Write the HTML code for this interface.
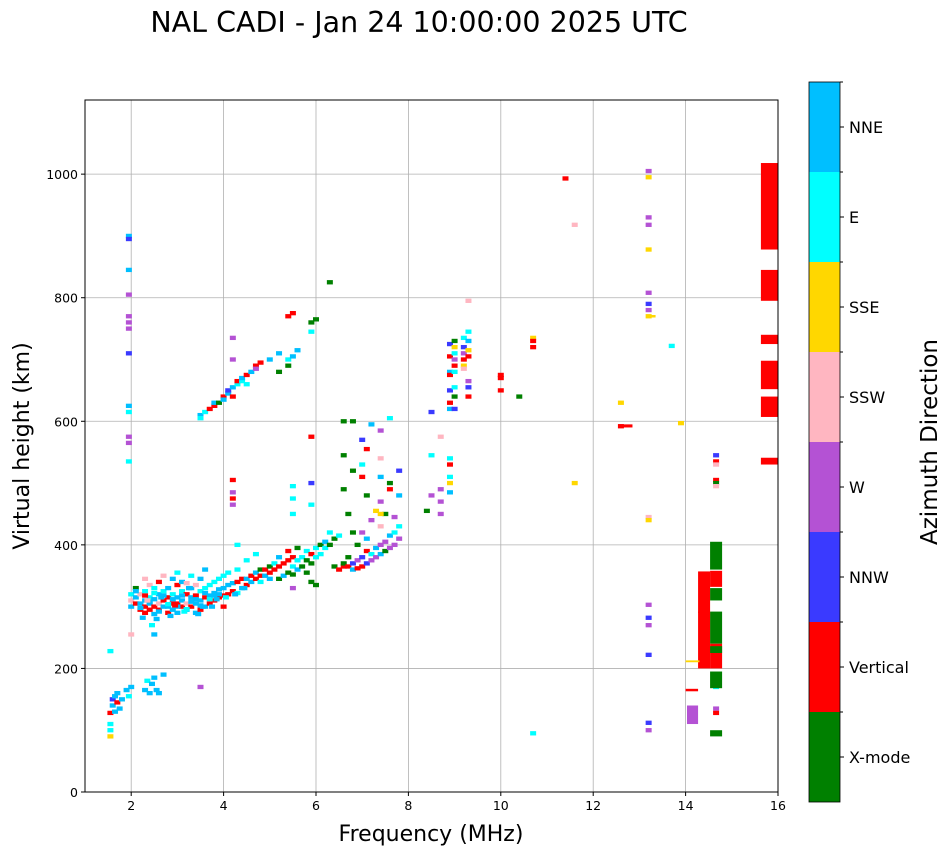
<!DOCTYPE html>
<html><head><meta charset="utf-8">
<style>
html,body{margin:0;padding:0;background:#fff;}
svg{display:block;font-family:"DejaVu Sans","Liberation Sans",sans-serif;}
</style></head>
<body>
<svg id="chart" width="951" height="856" xmlns="http://www.w3.org/2000/svg">
<text x="419" y="32" font-size="28.5" text-anchor="middle">NAL CADI - Jan 24 10:00:00 2025 UTC</text>
<g id="grid"></g>
<g id="marks"></g>
<rect x="85" y="100" width="693" height="692" fill="none" stroke="#000" stroke-width="1"/>
<g id="axes"></g>
<text x="431" y="841" font-size="22" text-anchor="middle">Frequency (MHz)</text>
<text transform="translate(29,446) rotate(-90)" font-size="22" text-anchor="middle">Virtual height (km)</text>
<g id="colorbar"></g>
<text transform="translate(937,442) rotate(-90)" font-size="23" text-anchor="middle">Azimuth Direction</text>
</svg>
<script>
const modeNames=["X-mode","Vertical","NNW","W","SSW","SSE","E","NNE"];
const modeColors=["#008000","#ff0000","#3a3aff","#b452d4","#ffb6c1","#ffd700","#00ffff","#00bfff"];
const xTicks=[2,4,6,8,10,12,14,16];
const yTicks=[0,200,400,600,800,1000];
const xDomain=[1,16];
const yDomain=[0,1120];

// echo points: frequency (MHz), virtual height (km), mode index
const echoFreqs=[1.55,1.55,1.55,1.55,1.6,1.6,1.65,1.65,1.7,1.7,1.75,1.8,1.55,1.9,1.95,2.0,2.3,2.35,2.4,2.45,2.5,2.55,2.6,2.7,2.5,2.45,
2.0,2.0,2.0,2.0,2.1,2.1,2.1,2.2,2.2,2.2,2.3,2.3,2.3,2.3,2.3,2.4,2.4,2.4,2.4,2.5,2.5,2.5,2.5,2.6,2.6,2.6,2.6,2.7,2.7,2.7,2.7,2.8,2.8,2.8,2.8,2.9,2.9,2.9,2.9,3.0,3.0,3.0,3.0,3.0,3.1,3.1,3.1,3.1,3.2,3.2,3.2,3.2,3.3,3.3,3.3,3.3,3.4,3.4,3.4,3.4,3.5,3.5,3.5,3.5,3.6,3.6,3.6,3.6,3.7,3.7,3.7,3.8,3.8,3.8,3.9,3.9,3.9,4.0,4.0,4.0,4.0,
4.1,4.1,4.1,4.2,4.2,4.3,4.3,4.3,4.3,4.4,4.4,4.5,4.5,4.5,4.6,4.6,4.7,4.7,4.7,4.8,4.8,4.8,4.9,4.9,5.0,5.0,5.0,5.1,5.1,5.2,5.2,5.2,5.3,5.3,5.4,5.4,5.4,5.5,5.5,5.5,5.5,5.6,5.6,5.6,5.7,5.7,5.8,5.8,5.8,5.9,5.9,5.9,6.0,6.0,6.0,6.1,6.1,6.2,6.2,6.3,6.3,6.4,6.4,6.5,6.5,6.6,6.6,6.7,6.7,6.7,6.8,6.8,6.8,6.9,6.9,6.9,7.0,7.0,7.0,7.1,7.1,7.1,7.2,7.2,7.2,7.3,7.3,7.3,7.4,7.4,7.4,7.5,7.5,7.5,7.6,7.6,7.7,7.7,7.7,7.8,7.8,
3.5,3.5,3.6,3.7,3.8,3.8,3.9,4.0,4.0,4.1,4.1,4.2,4.2,4.2,4.2,4.3,4.3,4.4,4.4,4.5,4.5,4.6,4.7,4.7,4.8,5.0,5.2,5.2,5.4,5.4,5.4,5.5,5.5,5.6,5.9,5.9,6.0,6.3,
1.95,1.95,1.95,1.95,1.95,1.95,1.95,1.95,1.95,1.95,1.95,1.95,1.95,
6.6,6.6,6.6,6.8,6.8,7.0,7.0,7.0,7.1,7.1,7.2,7.4,7.4,7.4,7.6,7.6,7.6,7.8,7.8,7.4,7.4,
4.2,4.2,4.2,4.2,5.5,5.5,5.5,5.9,5.9,5.9,
8.4,8.5,8.5,8.5,8.7,8.7,8.7,8.7,8.9,8.9,8.9,8.9,8.9,8.9,8.9,8.9,8.9,8.9,8.9,8.9,9.0,9.0,9.0,9.0,9.0,9.0,9.0,9.0,9.0,9.2,9.2,9.2,9.2,9.2,9.2,9.3,9.3,9.3,9.3,9.3,9.3,9.3,9.3,
10.0,10.0,10.0,10.4,10.7,10.7,10.7,11.4,11.6,11.6,12.6,12.6,13.2,13.2,13.2,13.2,13.2,13.2,13.2,13.2,13.2,13.2,13.2,13.2,13.2,13.2,13.2,13.2,13.2,13.7,13.9,10.7,3.5,
14.66,14.66,14.66,14.66,14.66,14.66,14.66,14.66,14.66,14.66,
2.1,2.2,2.3,2.4,2.5,2.6,2.7,2.8,2.9,3.0,3.1,3.2,3.3,3.4,3.5,3.6,3.7,3.8,3.9,2.25,2.55,2.85,3.15,3.45,3.75,2.35,2.65,2.95,3.25,3.55,3.85,4.05,4.25,4.45];
const echoHeights=[90,100,110,128,140,150,155,130,145,160,135,150,228,165,155,170,165,180,160,175,185,165,160,190,255,270,
300,310,320,255,305,315,330,295,305,320,290,300,310,325,345,295,305,315,335,288,300,312,330,295,305,320,340,300,310,325,350,290,300,315,330,295,305,320,345,290,305,315,335,355,300,310,325,340,295,305,320,338,300,315,330,350,290,305,318,335,295,310,325,345,300,315,330,360,305,318,335,310,322,340,315,328,345,300,318,330,350,
320,335,355,325,338,322,340,360,400,330,345,335,345,375,340,350,345,355,385,340,350,360,350,360,355,365,345,360,370,345,365,380,350,370,355,375,390,352,365,380,330,360,375,395,365,380,355,375,390,370,385,340,380,395,335,385,400,395,405,400,420,365,410,360,415,365,370,365,380,450,370,360,420,362,375,400,365,380,420,370,390,410,375,385,440,380,395,455,385,400,430,390,405,450,395,415,400,420,445,410,430,
610,605,615,620,625,630,630,640,635,645,650,640,655,735,700,660,665,665,670,675,660,680,690,685,695,700,680,710,690,700,770,705,775,715,760,745,765,825,
900,895,845,805,770,760,750,710,625,615,575,565,535,
545,490,600,600,520,570,530,510,555,480,595,585,540,510,500,490,605,520,480,470,450,
505,485,475,465,495,475,450,575,500,465,
455,615,545,480,575,490,470,450,725,705,680,675,650,630,620,540,530,510,500,485,730,720,710,700,690,680,620,655,640,735,720,710,700,690,685,745,730,715,705,665,655,640,795,
670,675,650,640,735,730,720,993,918,500,630,592,1005,995,930,918,878,808,790,780,770,445,440,303,282,270,222,112,100,722,597,95,170,
535,545,530,505,500,495,135,128,170,180,
325,298,318,308,322,292,318,304,312,300,318,296,308,312,302,322,312,318,320,282,280,285,292,288,300,310,315,302,330,300,312,315,320,330];
const echoModes=[5,6,6,1,7,2,7,7,1,7,7,7,6,7,6,7,7,6,7,7,7,7,7,7,7,6,
7,4,6,4,1,7,0,1,7,4,1,1,7,6,4,1,7,6,4,7,1,7,6,1,4,7,1,7,1,6,4,1,7,1,7,7,1,6,7,7,1,7,1,6,1,7,6,7,7,4,1,4,1,7,7,6,7,7,1,4,1,7,6,7,7,1,6,7,1,7,6,1,7,6,1,7,6,1,1,7,6,
1,7,6,1,7,6,1,6,6,7,1,1,7,6,7,1,1,7,6,6,1,0,7,1,1,0,7,1,6,0,1,7,7,1,0,1,1,0,6,1,3,7,6,0,0,6,0,0,6,0,1,0,6,6,0,6,0,6,7,0,6,0,0,1,6,1,0,1,0,0,2,7,0,1,3,0,1,2,3,2,1,7,3,6,3,3,7,5,7,3,4,0,3,0,3,7,3,6,3,3,6,
7,6,6,1,1,7,0,1,7,7,2,1,7,3,3,6,1,6,7,1,6,7,1,3,1,7,0,7,0,6,1,7,1,7,0,6,0,0,
7,2,7,3,3,3,3,2,7,6,3,3,6,
0,0,0,0,0,2,6,1,1,0,7,3,4,7,0,1,6,2,7,3,5,
1,3,1,3,6,6,6,1,2,6,
0,2,6,3,4,3,3,3,2,1,7,1,2,1,7,6,1,6,5,7,0,5,6,3,1,6,2,6,0,6,2,3,1,5,4,6,7,5,1,3,2,1,4,
1,1,1,0,5,1,1,1,4,5,5,1,3,5,3,3,5,3,2,3,5,4,5,3,2,3,2,2,3,6,5,6,3,
1,2,4,1,0,4,3,1,6,1,
7,7,1,7,6,7,7,6,7,7,7,6,7,7,7,7,6,7,7,7,7,7,6,7,7,4,7,1,7,7,7,6,7,7];

// extended echo blocks: f start, f end, h bottom, h top, mode
const blockF0=[15.63,15.63,15.63,15.63,15.63,15.63,14.53,14.53,14.53,14.53,14.53,14.53,14.53,14.53,14.27,14.27,14.03,14.0,14.0,12.55,13.15];
const blockF1=[16.0,16.0,16.0,16.0,16.0,16.0,14.79,14.79,14.79,14.79,14.79,14.79,14.79,14.79,14.53,14.53,14.27,14.27,14.3,12.85,13.35];
const blockH0=[878,795,725,652,607,530,360,332,310,240,200,168,90,225,200,290,110,163,210,590,768];
const blockH1=[1018,845,740,698,640,541,405,358,330,292,240,195,100,236,357,292,140,167,213,595,772];
const blockModes=[1,1,1,1,1,1,0,1,0,0,1,0,0,0,1,1,3,1,5,1,5];

const L=85,R=778,T=100,B=792;
const sx=f=>L+(f-xDomain[0])/(xDomain[1]-xDomain[0])*(R-L);
const sy=h=>B-(h-yDomain[0])/(yDomain[1]-yDomain[0])*(B-T);
const NS="http://www.w3.org/2000/svg";
function mk(tag,attrs,parent){const e=document.createElementNS(NS,tag);for(const k in attrs)e.setAttribute(k,attrs[k]);parent.appendChild(e);return e;}
const grid=document.getElementById('grid'),axes=document.getElementById('axes'),marks=document.getElementById('marks'),cb=document.getElementById('colorbar');

xTicks.forEach(v=>{const x=sx(v);
 if(v<16){const g=mk('line',{x1:x,x2:x,y1:T,y2:B,stroke:'#b0b0b0','stroke-width':0.8},grid);
 
 }
 const t=mk('line',{x1:x,x2:x,y1:B,y2:B+4,stroke:'#000'},axes);
 
 
 const l=mk('text',{x:x,y:B+18,'font-size':12.5,'text-anchor':'middle'},axes);l.textContent=v;
 
 
});
yTicks.forEach(v=>{const y=sy(v);
 if(v>0){const g=mk('line',{x1:L,x2:R,y1:y,y2:y,stroke:'#b0b0b0','stroke-width':0.8},grid);
 
 }
 const t=mk('line',{x1:L-4,x2:L,y1:y,y2:y,stroke:'#000'},axes);
 
 
 const l=mk('text',{x:L-7,y:y+5,'font-size':12.5,'text-anchor':'end'},axes);l.textContent=v;
 
 
});

for(let i=0;i<echoFreqs.length;i++){
 const x=sx(echoFreqs[i]),y=sy(echoHeights[i]+3.5);
 const r=mk('rect',{x:x-3,y:y,width:6,height:sy(0)-sy(7),fill:modeColors[echoModes[i]]},marks);
 
 
}
for(let i=0;i<blockF0.length;i++){
 const x0=sx(blockF0[i]),x1=sx(blockF1[i]),y0=sy(blockH1[i]),y1=sy(blockH0[i]);
 const r=mk('rect',{x:x0,y:y0,width:x1-x0,height:y1-y0,fill:modeColors[blockModes[i]]},marks);
 
 
}

const cbL=809,cbW=31,cbT=82,cbB=802,seg=(cbB-cbT)/modeNames.length;
modeNames.forEach((n,i)=>{
 const y=cbB-(i+1)*seg;
 const r=mk('rect',{x:cbL,y:y,width:cbW,height:seg,fill:modeColors[i]},cb);
 
 
 const t=mk('line',{x1:cbL+cbW,x2:cbL+cbW+4,y1:y+seg/2,y2:y+seg/2,stroke:'#000'},cb);
 
 
 const t2=mk('line',{x1:cbL+cbW,x2:cbL+cbW+3,y1:y,y2:y,stroke:'#000'},cb);
 
 
 const l=mk('text',{x:cbL+cbW+9,y:y+seg/2+6,'font-size':16},cb);l.textContent=n;
 
 
});
const f=mk('rect',{x:cbL,y:cbT,width:cbW,height:cbB-cbT,fill:'none',stroke:'#000','stroke-width':0.8},cb);


</script>
</body></html>
